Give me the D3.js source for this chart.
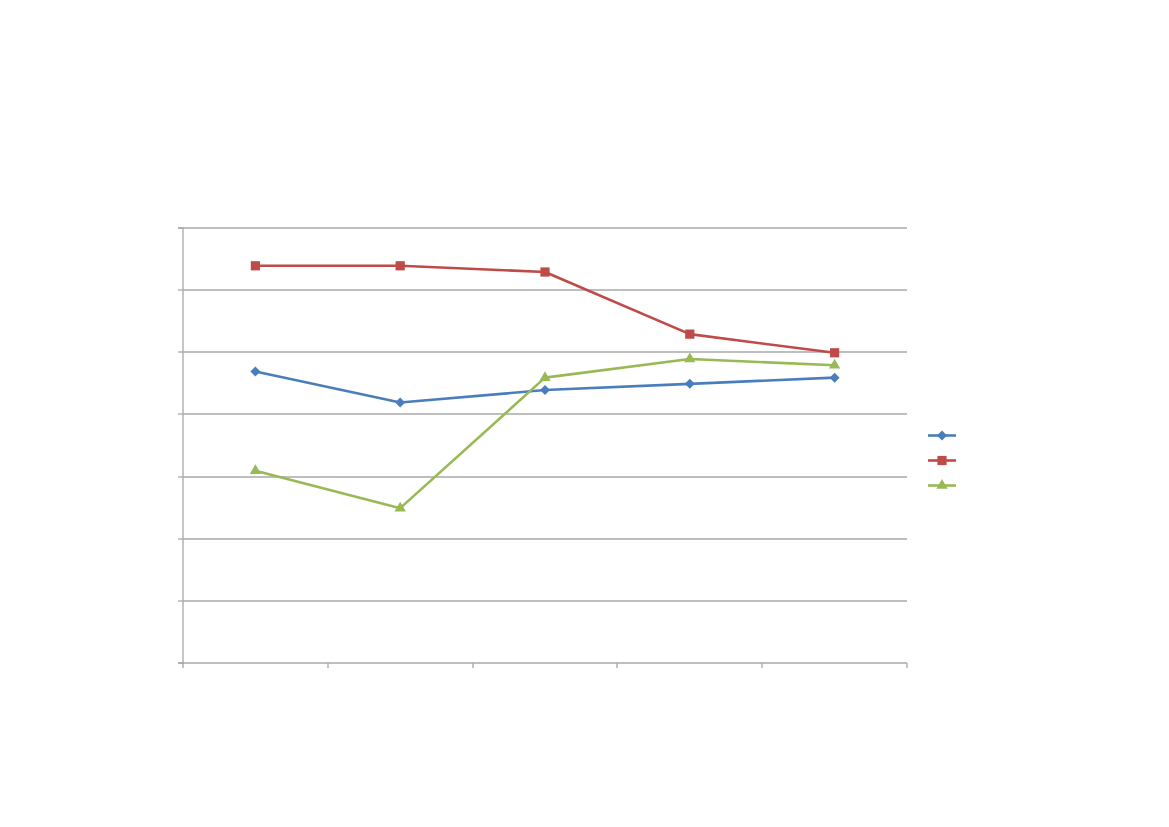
<!DOCTYPE html>
<html><head><meta charset="utf-8">
<script src="https://cdn.jsdelivr.net/npm/d3@7"></script>
<style>html,body{margin:0;padding:0;background:#fff;}svg{display:block;}</style>
</head><body>
<svg id="c" width="1169" height="827"></svg>
<script>
const categories = ["1", "2", "3", "4", "5"];
const seriesNames = ["", "", ""];
const seriesA = [4.7, 4.2, 4.4, 4.5, 4.6];
const seriesB = [6.4, 6.4, 6.3, 5.3, 5.0];
const seriesC = [3.1, 2.5, 4.6, 4.9, 4.8];
const yTicks = [0, 1, 2, 3, 4, 5, 6, 7];
const colors = ["#4A7EBB", "#BE4B48", "#98B954"];
const symbols = [d3.symbolSquare, d3.symbolSquare, d3.symbolTriangle];
const symRot = [45, 0, 0];
const symSizes = [50, 85, 55];

const svg = d3.select("#c");
const L = 183, R = 907, T = 228, B = 663;
const x = d3.scaleBand().domain(categories).range([L, R]);
const y = d3.scaleLinear().domain([0, 7]).range([B, T]);
const ry = d => Math.round(y(d));
const gridColor = "#A8A8A8";

// gridlines
svg.append("g").selectAll("line").data(yTicks.slice(1)).join("line")
  .attr("x1", L).attr("x2", R).attr("y1", ry).attr("y2", ry)
  .attr("stroke", gridColor).attr("stroke-width", 1.3);

// y axis
const ya = svg.append("g").attr("transform", `translate(${L},0)`)
  .call(d3.axisLeft(y).tickValues(yTicks).tickSize(5).tickFormat(() => "").offset(0));
ya.selectAll(".tick").attr("transform", d => `translate(0,${ry(d)})`);
// x axis
const xa = svg.append("g").attr("transform", `translate(0,${B})`)
  .call(d3.axisBottom(x).tickSize(0).tickFormat(() => "").offset(0));
const bounds = categories.map(c => x(c)).concat([R]);
xa.selectAll(".bt").data(bounds).join("line").attr("class", "bt")
  .attr("x1", d => Math.round(d)).attr("x2", d => Math.round(d)).attr("y1", 0).attr("y2", 5);
[ya, xa].forEach(a => {
  a.select(".domain").attr("stroke", gridColor).attr("stroke-width", 1.3);
  a.selectAll("line").attr("stroke", gridColor).attr("stroke-width", 1.3);
});

const data = [seriesA, seriesB, seriesC];
const line = d3.line().x((d, i) => x(categories[i]) + x.bandwidth() / 2).y(d => y(d) + 0.5);
data.forEach((s, k) => {
  svg.append("path").datum(s).attr("d", line).attr("fill", "none")
    .attr("stroke", colors[k]).attr("stroke-width", 2.6).attr("stroke-linejoin", "round");
  svg.append("g").selectAll("path").data(s).join("path")
    .attr("d", d3.symbol().type(symbols[k]).size(symSizes[k]))
    .attr("transform", (d, i) => `translate(${x(categories[i]) + x.bandwidth() / 2},${y(d) + 0.5}) rotate(${symRot[k]})`)
    .attr("fill", colors[k]);
});

// legend
const lg = svg.append("g");
seriesNames.forEach((n, k) => {
  const yy = 435.5 + k * 25;
  lg.append("line").attr("x1", 928).attr("x2", 956).attr("y1", yy).attr("y2", yy)
    .attr("stroke", colors[k]).attr("stroke-width", 2.6);
  lg.append("path").attr("d", d3.symbol().type(symbols[k]).size(symSizes[k]))
    .attr("transform", `translate(942,${yy}) rotate(${symRot[k]})`).attr("fill", colors[k]);
  lg.append("text").attr("x", 962).attr("y", yy + 4).attr("font-family", "Liberation Sans")
    .attr("font-size", 12).text(n);
});
</script>
</body></html>
